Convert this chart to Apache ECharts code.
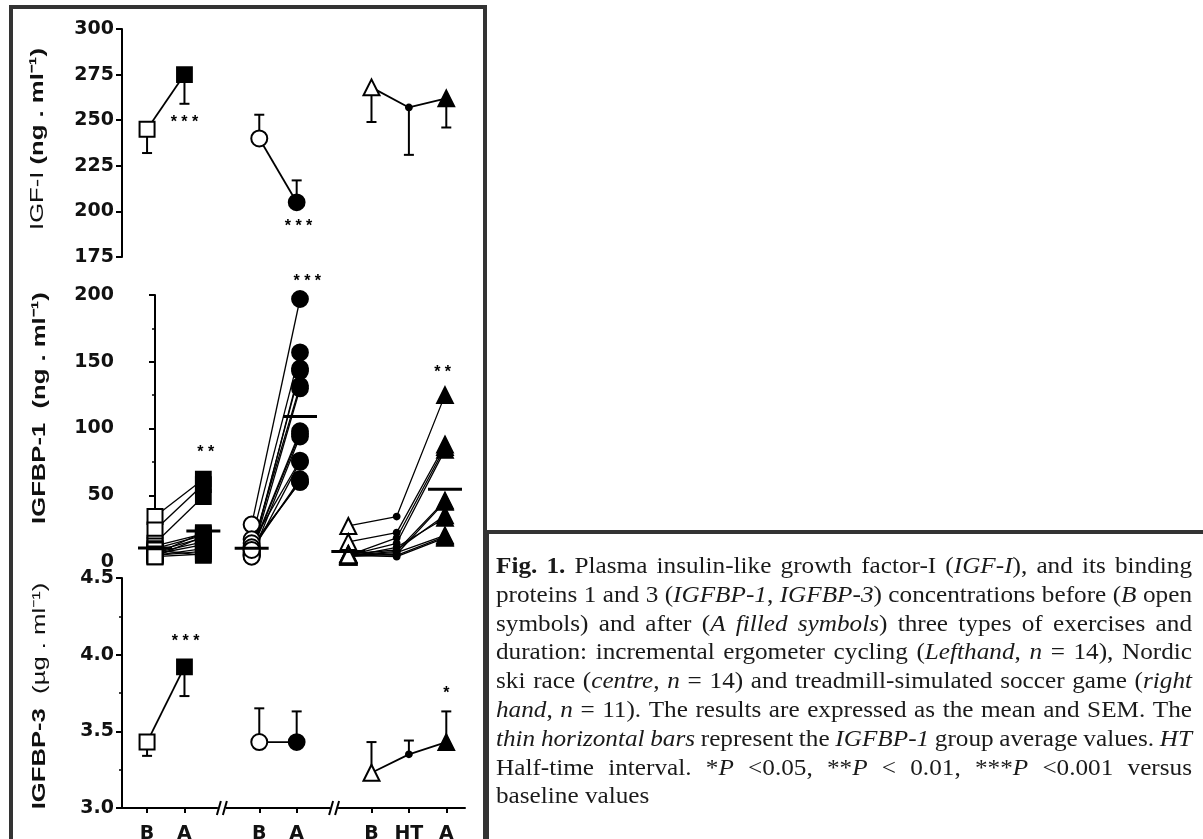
<!DOCTYPE html>
<html><head><meta charset="utf-8">
<script src="https://cdn.jsdelivr.net/npm/echarts@6/dist/echarts.min.js"></script>
<style>html,body{margin:0;padding:0;background:#fff}#c{width:1203px;height:839px}</style>
</head><body><div id="c"></div>
<script>
// ---------------- data ----------------
const groupLabels = ['B', 'A', 'B', 'A', 'B', 'HT', 'A'];
const posTB = [1, 2, 4, 5, 7, 8, 9];          // axis positions, top & bottom panels
const posMid = [0, 1, 2, 3, 4, 5, 6];         // axis positions, middle panel
const groupIdx = [[0, 1], [2, 3], [4, 5, 6]]; // columns of each exercise
const breakPos = [3, 6];

// IGF-I (ng/ml): mean and SEM
const igf1Mean = [245, 275, 240, 205, 268, 257, 262];
const igf1Sem  = [13, 16, 13, 12, 19, 26, 16];
const igf1SemDir = [-1, -1, 1, 1, -1, -1, -1];
const igf1StarX = [2, 5.05];
const igf1StarY = [251, 194];
const igf1StarT = ['* * *', '* * *'];

// IGFBP-1 (ng/ml): individual values
const cycB = [34, 24, 14, 12, 10, 8, 7, 6, 5, 5, 4, 9, 6, 4];
const cycA = [62, 58, 49, 21, 20, 18, 15, 13, 10, 8, 6, 5, 22, 19];
const skiB = [28, 17, 5, 10, 8, 6, 12, 9, 7, 5, 4, 14, 11, 9];
const skiA = [197, 157, 145, 132, 96, 75, 60, 98, 143, 130, 94, 76, 60, 62];
const socB  = [27, 15, 5, 5, 5, 4, 6, 4, 5, 6, 5];
const socHT = [34, 22, 18, 14, 8, 6, 9, 11, 7, 5, 4];
const socA  = [125, 88, 86, 84, 46, 45, 35, 33, 20, 19, 18];
const bp1StarX = [1.05, 3.15, 5.95];
const bp1StarY = [85, 213, 145];
const bp1StarT = ['* *', '* * *', '* *'];

// IGFBP-3 (ug/ml): mean and SEM
const bp3Mean = [3.43, 3.92, 3.43, 3.43, 3.23, 3.35, 3.43];
const bp3Sem  = [0.09, 0.19, 0.22, 0.20, 0.20, 0.09, 0.20];
const bp3SemDir = [-1, -1, 1, 1, 1, 1, 1];
const bp3StarX = [2.03, 9];
const bp3StarY = [4.11, 3.77];
const bp3StarT = ['* * *', '*'];

const yNames = ['{n|IGF-I} {b|(ng . ml⁻¹)}', '{b|IGFBP-1  (ng . ml⁻¹)}', '{b|IGFBP-3}  {n|(µg . ml⁻¹)}'];

const captionLines = [
  [['b', 'Fig. 1.'], ['n', ' Plasma insulin-like growth factor-I ('], ['i', 'IGF-I'], ['n', '), and its binding']],
  [['n', 'proteins 1 and 3 ('], ['i', 'IGFBP-1'], ['n', ', '], ['i', 'IGFBP-3'], ['n', ') concentrations before ('], ['i', 'B'], ['n', ' open']],
  [['n', 'symbols) and after ('], ['i', 'A filled symbols'], ['n', ') three types of exercises and']],
  [['n', 'duration: incremental ergometer cycling ('], ['i', 'Lefthand'], ['n', ', '], ['i', 'n'], ['n', ' = 14), Nordic']],
  [['n', 'ski race ('], ['i', 'centre'], ['n', ', '], ['i', 'n'], ['n', ' = 14) and treadmill-simulated soccer game ('], ['i', 'right']],
  [['i', 'hand'], ['n', ', '], ['i', 'n'], ['n', ' = 11). The results are expressed as the mean and SEM. The']],
  [['i', 'thin horizontal bars'], ['n', ' represent the '], ['i', 'IGFBP-1'], ['n', ' group average values. '], ['i', 'HT']],
  [['n', 'Half-time interval. *'], ['i', 'P'], ['n', ' <0.05, **'], ['i', 'P'], ['n', ' < 0.01, ***'], ['i', 'P'], ['n', ' <0.001 versus']],
  [['n', 'baseline values']]
];

// ---------------- helpers ----------------
const midCols = [cycB, cycA, skiB, skiA, socB, socHT, socA];
const shapes = ['rect', 'circle', 'triangle'];
const mean = a => a.reduce((s, v) => s + v, 0) / a.length;
function groupOf(i) { return groupIdx.findIndex(g => g.indexOf(i) >= 0); }
function symOf(i) {
  const sh = shapes[groupOf(i)];
  if (groupLabels[i] === 'HT') return 'circle';
  if (groupLabels[i] === 'B') return 'empty' + sh.charAt(0).toUpperCase() + sh.slice(1);
  return sh;
}
function sizeOf(i) {
  if (groupLabels[i] === 'HT') return 6;
  const sh = shapes[groupOf(i)];
  return sh === 'rect' ? 15 : 16;
}
const K = '#000';

function errRender(params, api) {
  const p0 = api.coord([api.value(0), api.value(1)]);
  const p1 = api.coord([api.value(0), api.value(2)]);
  return { type: 'group', children: [
    { type: 'line', shape: { x1: p0[0], y1: p0[1], x2: p1[0], y2: p1[1] }, style: { stroke: K, lineWidth: 2 } },
    { type: 'line', shape: { x1: p1[0] - 5, y1: p1[1], x2: p1[0] + 5, y2: p1[1] }, style: { stroke: K, lineWidth: 2 } }
  ]};
}
function meanRender(params, api) {
  const p = api.coord([api.value(0), api.value(1)]);
  return { type: 'line', shape: { x1: p[0] - 17, y1: p[1], x2: p[0] + 17, y2: p[1] }, style: { stroke: K, lineWidth: 3 } };
}
function starRenderer(texts) {
  return function (params, api) {
    const p = api.coord([api.value(0), api.value(1)]);
    return { type: 'text', x: p[0], y: p[1] + 4, style: { text: texts[params.dataIndex], font: 'bold 16px "Liberation Sans"', fill: K, align: 'center', verticalAlign: 'middle' } };
  };
}
function breakRender(params, api) {
  const p = api.coord([api.value(0), api.value(1)]);
  const cx = p[0], cy = p[1];
  return { type: 'group', children: [
    { type: 'rect', shape: { x: cx - 4, y: cy - 3, width: 8, height: 6 }, style: { fill: '#fff' } },
    { type: 'line', shape: { x1: cx - 5, y1: cy + 7, x2: cx - 1, y2: cy - 7 }, style: { stroke: K, lineWidth: 2 } },
    { type: 'line', shape: { x1: cx + 1, y1: cy + 7, x2: cx + 5, y2: cy - 7 }, style: { stroke: K, lineWidth: 2 } }
  ]};
}

const series = [];
function meanPanel(ax, means, sems, dirs, starX, starY, starT) {
  series.push({ type: 'custom', xAxisIndex: ax, yAxisIndex: ax, z: 1, clip: false, renderItem: errRender,
    encode: { x: 0, y: [1, 2] },
    data: posTB.map((x, i) => [x, means[i], means[i] + dirs[i] * sems[i]]) });
  groupIdx.forEach(g => series.push({ type: 'line', xAxisIndex: ax, yAxisIndex: ax, z: 2, showSymbol: false,
    lineStyle: { color: K, width: 1.8 }, data: g.map(i => [posTB[i], means[i]]) }));
  series.push({ type: 'scatter', xAxisIndex: ax, yAxisIndex: ax, z: 3,
    itemStyle: { color: K, borderColor: K, borderWidth: 1.8, opacity: 1 },
    data: posTB.map((x, i) => ({ value: [x, means[i]], symbol: symOf(i), symbolSize: sizeOf(i) })) });
  series.push({ type: 'custom', xAxisIndex: ax, yAxisIndex: ax, z: 5, clip: false, renderItem: starRenderer(starT),
    data: starX.map((x, i) => [x, starY[i]]) });
}
meanPanel(0, igf1Mean, igf1Sem, igf1SemDir, igf1StarX, igf1StarY, igf1StarT);
meanPanel(2, bp3Mean, bp3Sem, bp3SemDir, bp3StarX, bp3StarY, bp3StarT);
series.push({ type: 'custom', xAxisIndex: 2, yAxisIndex: 2, z: 6, clip: false, renderItem: breakRender,
  data: breakPos.map(x => [x, 3.0]) });

// middle panel: individual subjects
groupIdx.forEach(g => {
  const n = midCols[g[0]].length;
  for (let j = 0; j < n; j++) {
    series.push({ type: 'line', xAxisIndex: 1, yAxisIndex: 1, z: 2, showSymbol: false, silent: true,
      lineStyle: { color: K, width: 1.3 }, data: g.map(i => [posMid[i], midCols[i][j]]) });
  }
});
const midPts = [];
midCols.forEach((col, i) => col.forEach(v => midPts.push({ value: [posMid[i], v], symbol: symOf(i), symbolSize: sizeOf(i) })));
series.push({ type: 'scatter', xAxisIndex: 1, yAxisIndex: 1, z: 3,
  itemStyle: { color: K, borderColor: K, borderWidth: 1.8, opacity: 1 }, data: midPts });
series.push({ type: 'custom', xAxisIndex: 1, yAxisIndex: 1, z: 4, clip: false, renderItem: meanRender,
  data: midCols.map((col, i) => [posMid[i], mean(col)]).filter((d, i) => groupLabels[i] !== 'HT') });
series.push({ type: 'custom', xAxisIndex: 1, yAxisIndex: 1, z: 5, clip: false, renderItem: starRenderer(bp1StarT),
  data: bp1StarX.map((x, i) => [x, bp1StarY[i]]) });

// ---------------- axes ----------------
const tickFont = { fontFamily: 'DejaVu Sans', fontWeight: 'bold', fontSize: 19, color: '#111' };
function yAx(gi, min, max, interval, minor, fmt) {
  return {
    gridIndex: gi, type: 'value', min, max, interval,
    axisLine: { show: true, lineStyle: { color: K, width: 2 } },
    axisTick: { show: true, length: 6, lineStyle: { color: K, width: 2 } },
    minorTick: { show: minor, splitNumber: 2, length: 3, lineStyle: { color: K, width: 1.5 } },
    axisLabel: Object.assign({ margin: 8, formatter: fmt }, tickFont),
    splitLine: { show: false }
  };
}

const option = {
  animation: false,
  backgroundColor: '#fff',
  grid: [
    { left: 122, top: 29, width: 343, height: 228, outerBoundsMode: 'none' },
    { left: 122, top: 295, width: 343, height: 267, outerBoundsMode: 'none' },
    { left: 122, top: 578, width: 343, height: 230, outerBoundsMode: 'none' }
  ],
  xAxis: [
    { gridIndex: 0, type: 'value', min: 0.33, max: 9.5, show: false },
    { gridIndex: 1, type: 'value', min: -0.683, max: 6.414, show: false },
    { gridIndex: 2, type: 'value', min: 0.33, max: 9.5,
      axisLine: { show: true, onZero: false, lineStyle: { color: K, width: 2 } },
      axisTick: { show: true, customValues: posTB, length: 5, lineStyle: { color: K, width: 2 } },
      axisLabel: Object.assign({ show: true, customValues: posTB, margin: 17,
        formatter: v => { const i = posTB.indexOf(v); return i >= 0 ? groupLabels[i] : ''; } }, tickFont),
      splitLine: { show: false } }
  ],
  yAxis: [
    yAx(0, 175, 300, 25, false, v => String(v)),
    yAx(1, 0, 200, 50, true, v => String(v)),
    yAx(2, 3, 4.5, 0.5, true, v => v.toFixed(1))
  ],
  series,
  graphic: []
};

// ---------------- frames, axis titles and caption ----------------
const gfx = [];
gfx.push({ type: 'rect', shape: { x: 11, y: 7, width: 474, height: 900 }, style: { fill: 'none', stroke: '#333', lineWidth: 4 }, z: 10 });
gfx.push({ type: 'rect', shape: { x: 487, y: 532, width: 800, height: 400 }, style: { fill: '#fff', stroke: '#333', lineWidth: 4 }, z: 10 });

const nameRich = {
  n: { fontFamily: 'Liberation Sans', fontSize: 19, fontWeight: 'normal', fill: '#111' },
  b: { fontFamily: 'Liberation Sans', fontSize: 19, fontWeight: 'bold', fill: '#111' }
};
const nameCenters = [[38, 139], [40, 408], [40, 696]];
yNames.forEach((t, k) => gfx.push({ type: 'text', x: nameCenters[k][0], y: nameCenters[k][1], rotation: Math.PI / 2, scaleX: 1.35, z: 11,
  style: { text: t, rich: nameRich, font: 'bold 19px "Liberation Sans"', fill: '#111', align: 'center', verticalAlign: 'middle' } }));

const cv = document.createElement('canvas');
const ctx = cv.getContext('2d');
const capFont = {
  n: '23px "Liberation Serif"',
  i: 'italic 23px "Liberation Serif"',
  b: 'bold 23px "Liberation Serif"'
};
const capLeft = 496, capRight = 1192, capTop = 567, capLH = 28.8;
const capWords = captionLines.map(line => {
  const words = [];
  let cur = [];
  line.forEach(([s, t]) => {
    t.split(' ').forEach((p, k) => {
      if (k > 0) { if (cur.length) words.push(cur); cur = []; }
      if (p.length) cur.push({ s, t: p });
    });
  });
  if (cur.length) words.push(cur);
  let total = 0;
  words.forEach(w => {
    w.w = 0;
    w.forEach(pc => { ctx.font = capFont[pc.s]; pc.w = ctx.measureText(pc.t).width; w.w += pc.w; });
    total += w.w;
  });
  words.total = total;
  return words;
});
ctx.font = capFont.n;
const sp = ctx.measureText(' ').width;
// horizontal stretch chosen so that the tightest justified line keeps ~0.9 of a normal space
let need = 0;
capWords.forEach((w, li) => { if (li < capWords.length - 1) need = Math.max(need, w.total + 0.9 * sp * (w.length - 1)); });
let sx = Math.max(1, Math.min(1.25, (capRight - capLeft) / need));
capWords.forEach((words, li) => {
  const last = li === capWords.length - 1;
  const gap = last ? sp * sx : (capRight - capLeft - words.total * sx) / (words.length - 1);
  let x = capLeft;
  const y = capTop + li * capLH;
  words.forEach(w => {
    w.forEach(pc => {
      gfx.push({ type: 'text', x, y, scaleX: sx, z: 11, style: { text: pc.t, font: capFont[pc.s], fill: '#1a1a1a', verticalAlign: 'middle' } });
      x += pc.w * sx;
    });
    x += gap;
  });
});
option.graphic = gfx;

const chart = echarts.init(document.getElementById('c'));
chart.setOption(option);
</script>
</body></html>
